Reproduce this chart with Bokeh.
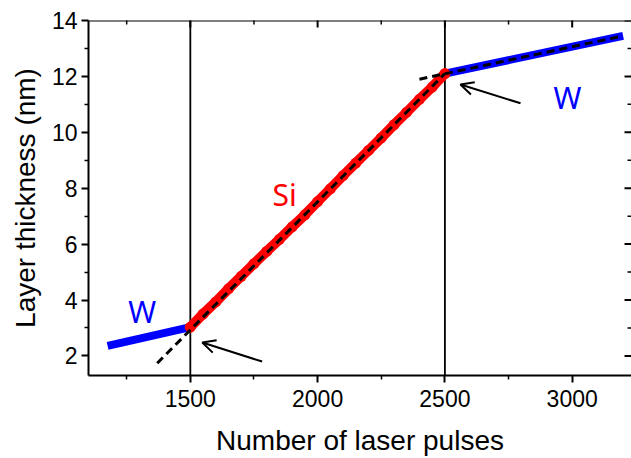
import math
from bokeh.plotting import figure
from bokeh.models import FixedTicker, Span, Label, Arrow, OpenHead, Range1d
from bokeh.embed import file_html
from bokeh.resources import INLINE

# ---- data ----
w1_x = [1175, 1500]
w1_y = [2.36, 3.03]

si_x = [1500, 1550, 1600, 1650, 1700, 1750, 1800, 1850, 1900, 1950, 2000,
        2050, 2100, 2150, 2200, 2250, 2300, 2350, 2400, 2450, 2500]
si_y = [3.03, 3.50, 3.93, 4.40, 4.85, 5.30, 5.74, 6.17, 6.62, 7.05, 7.52,
        7.98, 8.45, 8.90, 9.35, 9.80, 10.27, 10.72, 11.18, 11.62, 12.10]

w2_x = [2500, 3200]
w2_y = [12.10, 13.45]

fit_si_x = [1370, 2500]
fit_si_y = [1.74, 12.10]

fit_w2_x = [2400, 3190]
fit_w2_y = [11.90, 13.43]

interfaces = [1500, 2500]

x_major = [1500, 2000, 2500, 3000]
x_minor = [1250, 1750, 2250, 2750, 3250]
y_major = [2, 4, 6, 8, 10, 12, 14]
y_minor = [3, 5, 7, 9, 11, 13]

labels_text = ["W", "Si", "W"]
labels_x = [1311, 1870, 2981]
labels_y = [3.6, 7.76, 11.24]
labels_color = ["#0000ff", "#ff0000", "#0000ff"]

arrows = [  # (x_start, y_start, x_end, y_end)
    (1782, 1.80, 1547, 2.48),
    (2797, 11.04, 2561, 11.71),
]

X_START, X_END = 1100, 3233
Y_START, Y_END = 1.3, 14

FONT = "Liberation Sans"

p = figure(width=631, height=458, output_backend="svg", toolbar_location=None,
           x_range=Range1d(X_START, X_END), y_range=Range1d(Y_START, Y_END),
           min_border_left=88, min_border_right=0, min_border_top=20,
           min_border_bottom=81)
p.grid.visible = False
p.outline_line_color = None
p.background_fill_color = "white"
p.border_fill_color = "white"

xt = FixedTicker(ticks=x_major, minor_ticks=x_minor)
yt = FixedTicker(ticks=y_major, minor_ticks=y_minor)

for ax, t in ((p.xaxis[0], xt), (p.yaxis[0], yt)):
    ax.ticker = t
    ax.axis_line_width = 2
    ax.major_tick_line_width = 2
    ax.minor_tick_line_width = 1.5
    ax.major_tick_in = 0
    ax.major_tick_out = 7
    ax.minor_tick_in = 0
    ax.minor_tick_out = 4
    ax.major_label_text_font = FONT
    ax.major_label_text_font_size = "23px"
    ax.major_label_text_color = "black"
    ax.axis_label_text_font = FONT
    ax.axis_label_text_font_size = "28px"
    ax.axis_label_text_font_style = "normal"
    ax.axis_label_text_color = "black"

p.xaxis[0].axis_label = "Number of laser pulses"
p.yaxis[0].axis_label = "Layer thickness (nm)"
p.xaxis[0].major_label_standoff = 7
p.yaxis[0].major_label_standoff = 4
p.xaxis[0].axis_label_standoff = 15
p.yaxis[0].axis_label_standoff = 8

# top frame line
p.add_layout(Span(location=Y_END, dimension="width", line_color="black",
                  line_width=2))

# interface lines
for loc in interfaces:
    p.add_layout(Span(location=loc, dimension="height", line_color="black",
                      line_width=1.8, level="underlay"))

# inward mirror ticks on top and right (half of each dash is clipped by the frame)
p.scatter(x_major, [Y_END] * len(x_major), marker="dash", size=14,
          angle=math.pi / 2, line_color="black", line_width=2)
p.scatter(x_minor, [Y_END] * len(x_minor), marker="dash", size=8,
          angle=math.pi / 2, line_color="black", line_width=1.5)
p.scatter([X_END] * len(y_major), y_major, marker="dash", size=14,
          line_color="black", line_width=2)
p.scatter([X_END] * len(y_minor), y_minor, marker="dash", size=8,
          line_color="black", line_width=1.5)

p.line(w1_x, w1_y, line_color="#0000ff", line_width=8, line_cap="butt")
p.line(w2_x, w2_y, line_color="#0000ff", line_width=8, line_cap="butt")
p.line(si_x, si_y, line_color="#ff0000", line_width=10, line_cap="round",
       line_join="round")
p.scatter(si_x, si_y, size=11, fill_color="#ff0000", line_color=None)

p.line(fit_si_x, fit_si_y, line_color="black", line_width=3, line_dash="8 5")
p.line(fit_w2_x, fit_w2_y, line_color="black", line_width=3, line_dash="8 5")

for (xs, ys, xe, ye) in arrows:
    p.add_layout(Arrow(end=OpenHead(size=13, line_width=2, line_color="black"),
                       x_start=xs, y_start=ys, x_end=xe, y_end=ye,
                       line_width=2, line_color="black"))

for t, x, y, c in zip(labels_text, labels_x, labels_y, labels_color):
    p.add_layout(Label(x=x, y=y, text=t, text_color=c, text_font="Noto Sans",
                       text_font_size="30px", text_align="center",
                       text_baseline="alphabetic"))

open("out.html", "w").write(file_html(p, INLINE))
